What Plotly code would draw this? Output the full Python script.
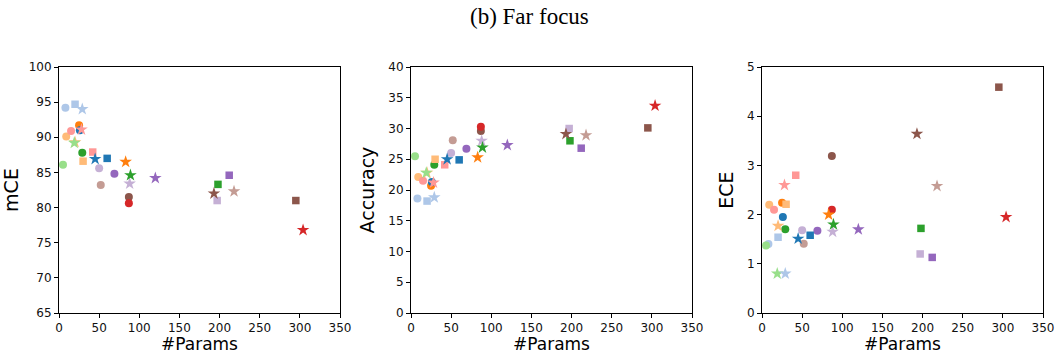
import plotly.graph_objects as go

# ---- data (params in M, mCE, accuracy, ECE) ----
circle_params = [8, 5, 9, 15, 25, 26, 29, 50, 52, 69, 87, 87]
circle_mce    = [94.2, 86.1, 90.1, 90.9, 91.7, 91.0, 87.8, 85.6, 83.2, 84.8, 81.5, 80.6]
circle_acc    = [18.6, 25.5, 22.1, 21.5, 20.7, 21.3, 24.1, 26.0, 28.1, 26.7, 29.6, 30.3]
circle_ece    = [1.40, 1.37, 2.20, 2.10, 2.24, 1.95, 1.70, 1.68, 1.41, 1.67, 3.19, 2.10]

square_params = [20, 30, 42, 60, 197, 198, 212, 295]
square_mce    = [94.7, 86.6, 87.9, 87.0, 81.0, 83.3, 84.6, 81.0]
square_acc    = [18.2, 25.0, 24.1, 24.9, 30.0, 28.0, 26.8, 30.1]
square_ece    = [1.54, 2.21, 2.80, 1.58, 1.20, 1.72, 1.13, 4.59]

star_params = [20, 19, 29, 28, 45, 83, 88, 89, 120, 193, 218, 304]
star_mce    = [89.3, 89.2, 94.0, 91.1, 86.9, 86.5, 83.4, 84.6, 84.2, 82.0, 82.3, 76.8]
star_acc    = [22.8, 22.8, 18.8, 21.2, 25.0, 25.3, 28.0, 26.9, 27.3, 29.1, 28.9, 33.7]
star_ece    = [1.77, 0.80, 0.80, 2.60, 1.51, 2.00, 1.65, 1.80, 1.70, 3.64, 2.58, 1.95]

x_ticks = [0, 50, 100, 150, 200, 250, 300, 350]

# ---- styles ----
BLUE, LBLUE = "#1f77b4", "#aec7e8"
ORANGE, LORANGE = "#ff7f0e", "#ffbb78"
GREEN, LGREEN = "#2ca02c", "#98df8a"
RED, LRED = "#d62728", "#ff9896"
PURPLE, LPURPLE = "#9467bd", "#c5b0d5"
BROWN, LBROWN = "#8c564b", "#c49c94"

circle_colors = [LBLUE, LGREEN, LORANGE, LRED, ORANGE, BLUE, GREEN, LPURPLE, LBROWN, PURPLE, BROWN, RED]
square_colors = [LBLUE, LORANGE, LRED, BLUE, LPURPLE, GREEN, PURPLE, BROWN]
star_colors = [LORANGE, LGREEN, LBLUE, LRED, BLUE, ORANGE, LPURPLE, GREEN, PURPLE, BROWN, LBROWN, RED]

fig = go.Figure()

panels = [
    ("mCE", circle_mce, square_mce, star_mce, [65, 100], 5),
    ("Accuracy", circle_acc, square_acc, star_acc, [0, 40], 5),
    ("ECE", circle_ece, square_ece, star_ece, [0, 5], 1),
]
W, H = 1057, 354
x_dom = [(59, 340), (411, 692), (762, 1043)]
y_dom = [1 - 313 / H, 1 - 67 / H]

for i, (name, cy, sy, ty, yr, dt) in enumerate(panels):
    xa = "x" if i == 0 else f"x{i+1}"
    ya = "y" if i == 0 else f"y{i+1}"
    fig.add_trace(go.Scatter(x=circle_params, y=cy, mode="markers", xaxis=xa, yaxis=ya,
                             marker=dict(symbol="circle", size=8, color=circle_colors, line=dict(width=0)),
                             showlegend=False))
    fig.add_trace(go.Scatter(x=square_params, y=sy, mode="markers", xaxis=xa, yaxis=ya,
                             marker=dict(symbol="square", size=7.5, color=square_colors, line=dict(width=0)),
                             showlegend=False))
    fig.add_trace(go.Scatter(x=star_params, y=ty, mode="markers", xaxis=xa, yaxis=ya,
                             marker=dict(symbol="star", size=9.5, color=star_colors, line=dict(width=0)),
                             showlegend=False))
    axis_common = dict(showline=True, linecolor="black", linewidth=1, mirror=True,
                       ticks="outside", ticklen=4, tickwidth=1, tickcolor="black",
                       showgrid=False, zeroline=False, automargin=False,
                       tickfont=dict(family="DejaVu Sans", size=12, color="#111"))
    xkey = "xaxis" if i == 0 else f"xaxis{i+1}"
    ykey = "yaxis" if i == 0 else f"yaxis{i+1}"
    fig.update_layout({
        xkey: dict(axis_common, domain=[x_dom[i][0] / W, x_dom[i][1] / W], range=[0, 350],
                   tickvals=x_ticks, anchor=ya,
                   title=dict(text="#Params", font=dict(family="DejaVu Sans", size=17, color="black"), standoff=2)),
        ykey: dict(axis_common, domain=y_dom, range=yr, dtick=dt, anchor=xa,
                   title=dict(text=name, font=dict(family="DejaVu Sans", size=19, color="black"), standoff=8)),
    })

fig.add_annotation(text="(b) Far focus", xref="paper", yref="paper", x=529 / W, y=1 - 17 / H,
                   showarrow=False, font=dict(family="Liberation Serif", size=23, color="black"),
                   xanchor="center", yanchor="middle")

fig.update_layout(width=W, height=H, margin=dict(l=0, r=0, t=0, b=0),
                  plot_bgcolor="white", paper_bgcolor="white")

fig.write_html("out.html")
